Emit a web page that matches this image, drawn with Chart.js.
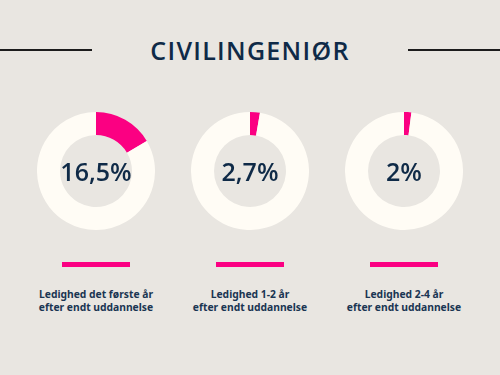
<!DOCTYPE html>
<html>
<head>
<meta charset="utf-8">
<script src="https://cdn.jsdelivr.net/npm/chart.js@4/dist/chart.umd.min.js"></script>
<style>
  html, body { margin: 0; padding: 0; }
  body { width: 500px; height: 375px; background: #e9e6e1; position: relative; overflow: hidden; font-family: "Open Sans", sans-serif; color: #0f2a47; }
  .rule { position: absolute; top: 49px; height: 2px; background: #1c1c1c; }
  .title { position: absolute; left: 0; width: 500px; top: 34px; text-align: center; font-size: 25px; font-weight: 600; letter-spacing: 1.3px; line-height: 32px; }
  .cell { position: absolute; top: 0; width: 154px; }
  .cell canvas { position: absolute; top: 112px; left: 18px; }
  .num { position: absolute; top: 155px; left: 0; width: 154px; text-align: center; font-size: 25px; font-weight: 600; line-height: 32px; }
  .bar { position: absolute; top: 262px; left: 43px; width: 68px; height: 5px; background: #fb0082; }
  .lbl { position: absolute; top: 288px; left: 0; width: 154px; text-align: center; font-family: "Noto Sans", sans-serif; font-size: 10.3px; font-weight: 700; line-height: 13px; color: #1a3552; }
</style>
</head>
<body>
<div class="rule" style="left:0;width:92px"></div>
<div class="rule" style="left:408px;width:92px"></div>
<div class="title">CIVILINGENIØR</div>
<div id="wrap"></div>
<script>
const categories = ["Ledighed det første år", "Ledighed 1-2 år", "Ledighed 2-4 år"];
const subLabel = "efter endt uddannelse";
const ledighed = [16.5, 2.7, 2];
const centerText = ["16,5%", "2,7%", "2%"];
const centers = [96, 250, 404];

const wrap = document.getElementById("wrap");
categories.forEach((cat, i) => {
  const cell = document.createElement("div");
  cell.className = "cell";
  cell.style.left = (centers[i] - 77) + "px";
  cell.innerHTML = '<canvas width="118" height="118"></canvas>' +
    '<div class="num">' + centerText[i] + '</div>' +
    '<div class="bar"></div>' +
    '<div class="lbl">' + cat + '<br>' + subLabel + '</div>';
  wrap.appendChild(cell);
  const ctx = cell.querySelector("canvas").getContext("2d");
  new Chart(ctx, {
    type: "doughnut",
    data: {
      labels: ["Ledig", "I job"],
      datasets: [{
        data: [ledighed[i], 100 - ledighed[i]],
        backgroundColor: ["#fb0082", "#fffcf5"],
        borderWidth: 0,
      }],
    },
    options: {
      responsive: false,
      animation: false,
      cutout: "61%",
      layout: { padding: 0 },
      plugins: { legend: { display: false }, tooltip: { enabled: false } },
    },
  });
});
</script>
</body>
</html>
